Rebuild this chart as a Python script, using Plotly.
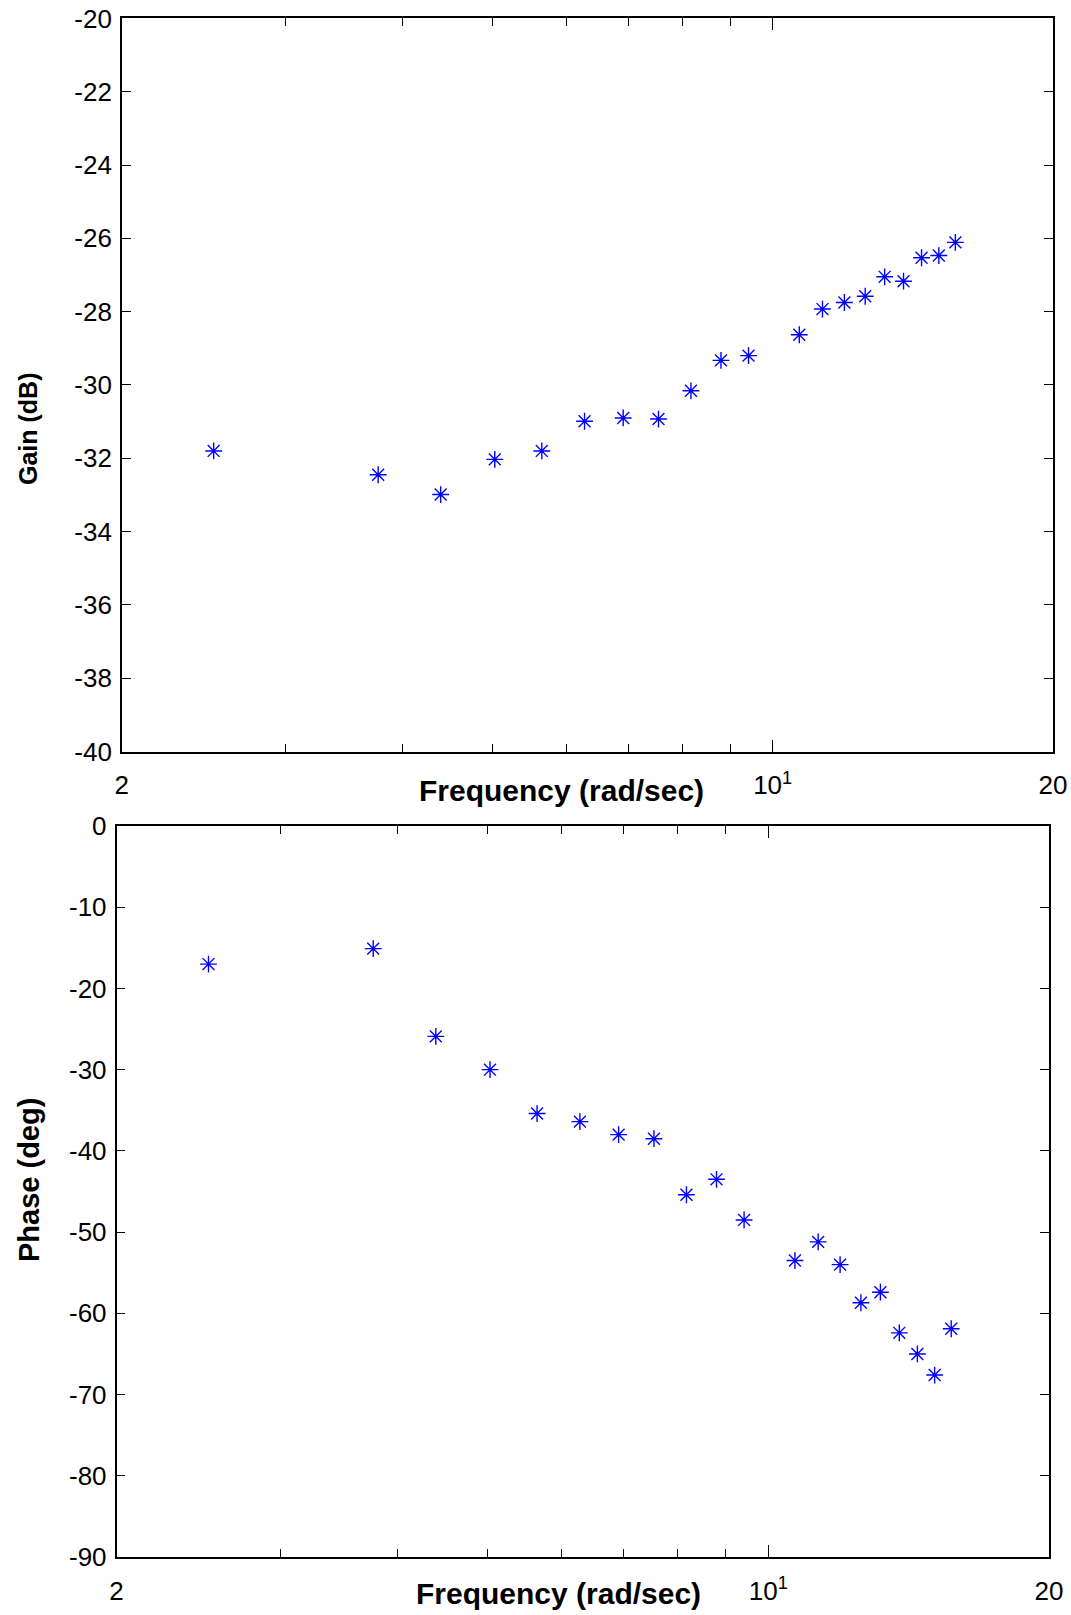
import plotly.graph_objects as go

# ---- data ----
freq = [2.51, 3.77, 4.40, 5.03, 5.65, 6.28, 6.91, 7.54, 8.17, 8.80,
        9.42, 10.68, 11.31, 11.94, 12.57, 13.19, 13.82, 14.45, 15.08, 15.71]
gain_db = [-31.80, -32.45, -32.99, -32.03, -31.80, -30.99, -30.90, -30.93, -30.16, -29.33,
           -29.20, -28.63, -27.93, -27.75, -27.58, -27.05, -27.17, -26.53, -26.47, -26.11]
phase_deg = [-17.0, -15.1, -25.9, -30.0, -35.4, -36.4, -38.0, -38.5, -45.4, -43.5,
             -48.5, -53.5, -51.2, -54.0, -58.7, -57.4, -62.4, -65.0, -67.6, -61.9]

x_tickvals = [2, 10, 20]
x_ticktext = ["2", "10<sup>1</sup>", "20"]
x_minor = [3, 4, 5, 6, 7, 8, 9]
gain_ticks = [-20, -22, -24, -26, -28, -30, -32, -34, -36, -38, -40]
phase_ticks = [0, -10, -20, -30, -40, -50, -60, -70, -80, -90]

W, H = 1071, 1615
FONT = "Liberation Sans, Arial, sans-serif"
BLUE = "rgb(0,0,255)"

marker = dict(symbol="asterisk-open", size=14, color=BLUE,
              line=dict(color=BLUE, width=1.4))

fig = go.Figure()
fig.add_trace(go.Scatter(x=freq, y=gain_db, mode="markers", marker=marker,
                         xaxis="x", yaxis="y", showlegend=False))
fig.add_trace(go.Scatter(x=freq, y=phase_deg, mode="markers", marker=marker,
                         xaxis="x2", yaxis="y2", showlegend=False))

def xax(domain, anchor):
    return dict(type="log", range=[0.30103, 1.30103], domain=domain, anchor=anchor,
                automargin=False,
                tickmode="array", tickvals=x_tickvals, ticktext=x_ticktext,
                ticks="inside", ticklen=12, tickwidth=1, tickcolor="black",
                minor=dict(tickmode="array", tickvals=x_minor, ticks="inside",
                           ticklen=8, tickwidth=1, tickcolor="black", showgrid=False),
                showline=True, linecolor="black", linewidth=1.5, mirror="ticks",
                showgrid=False, zeroline=False,
                tickfont=dict(family=FONT, size=26, color="black"),
                ticklabelstandoff=10)

def yax(domain, anchor, vals, rng):
    return dict(range=rng, domain=domain, anchor=anchor,
                automargin=False,
                tickmode="array", tickvals=vals, ticktext=[str(v) for v in vals],
                ticks="inside", ticklen=9, tickwidth=1, tickcolor="black",
                showline=True, linecolor="black", linewidth=1.5, mirror="ticks",
                showgrid=False, zeroline=False,
                tickfont=dict(family=FONT, size=26, color="black"),
                ticklabelstandoff=3)

top_dom = [1 - 751.5 / H, 1 - 18.4 / H]
bot_dom = [1 - 1557 / H, 1 - 826 / H]

fig.update_layout(
    width=W, height=H, autosize=False,
    margin=dict(l=0, r=0, t=0, b=0, pad=0),
    paper_bgcolor="white", plot_bgcolor="white",
    xaxis=xax([121.8 / W, 1053 / W], "y"),
    yaxis=yax(top_dom, "x", gain_ticks, [-40, -20]),
    xaxis2=xax([116.5 / W, 1049 / W], "y2"),
    yaxis2=yax(bot_dom, "x2", phase_ticks, [-90, 0]),
    annotations=[
        dict(text="<b>Gain (dB)</b>", xref="paper", yref="paper",
             x=28 / W, y=1 - 429 / H, xanchor="center", yanchor="middle",
             textangle=-90, showarrow=False,
             font=dict(family=FONT, size=25, color="black")),
        dict(text="<b>Phase (deg)</b>", xref="paper", yref="paper",
             x=29 / W, y=1 - 1180 / H, xanchor="center", yanchor="middle",
             textangle=-90, showarrow=False,
             font=dict(family=FONT, size=29, color="black")),
        dict(text="<b>Frequency (rad/sec)</b>", xref="paper", yref="paper",
             x=561.5 / W, y=1 - 790 / H, xanchor="center", yanchor="middle",
             showarrow=False, font=dict(family=FONT, size=30, color="black")),
        dict(text="<b>Frequency (rad/sec)</b>", xref="paper", yref="paper",
             x=558 / W, y=1 - 1593 / H, xanchor="center", yanchor="middle",
             showarrow=False, font=dict(family=FONT, size=30, color="black")),
    ],
)

fig.write_html(
    "out.html",
    config={"displayModeBar": False, "responsive": False},
    post_script="document.body.style.margin='0';document.body.style.overflow='hidden';",
)
